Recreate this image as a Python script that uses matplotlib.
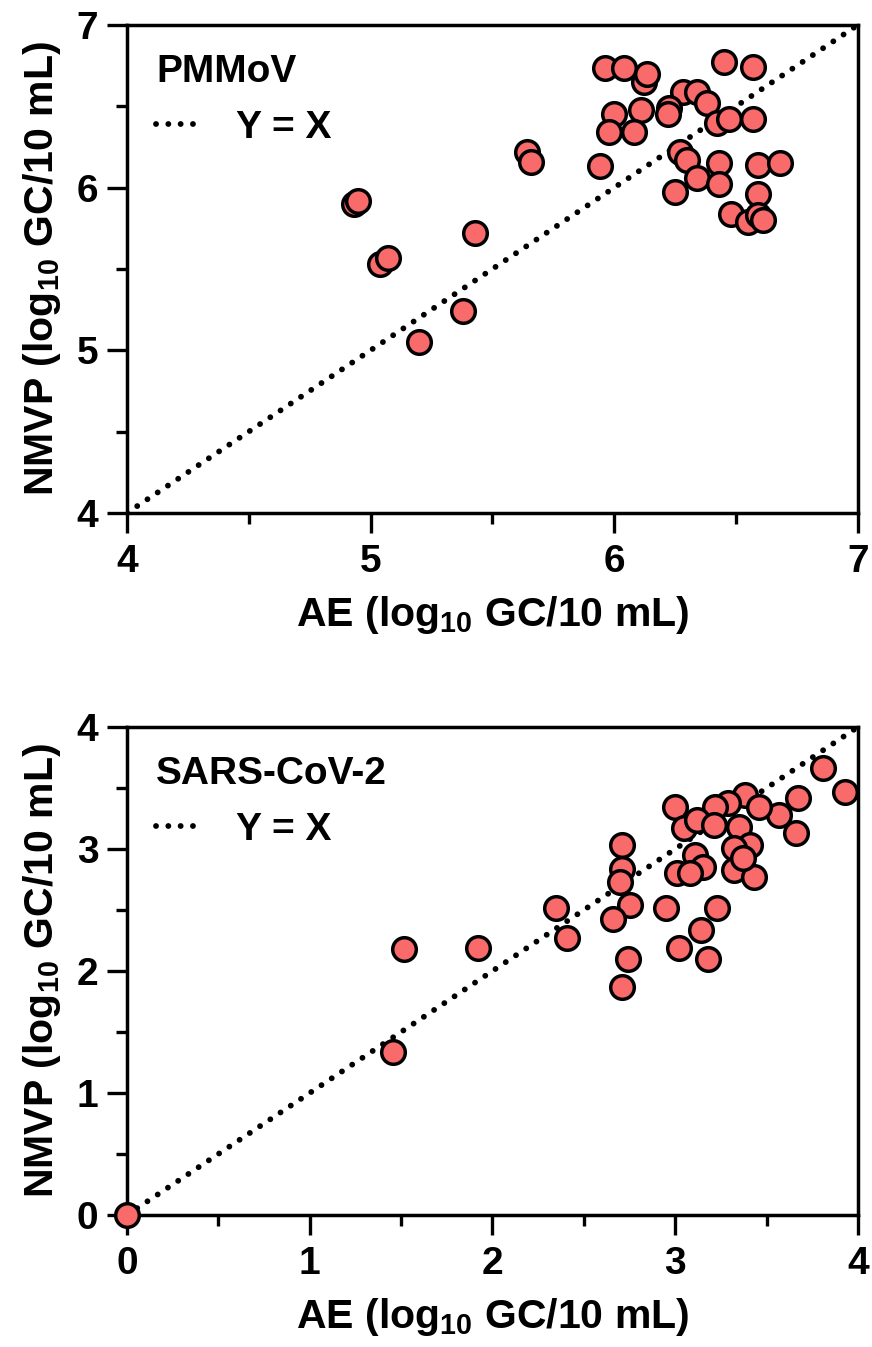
import matplotlib
matplotlib.use('Agg')
import matplotlib.pyplot as plt
from matplotlib.ticker import MultipleLocator

# PMMoV panel: AE vs NMVP (log10 GC/10 mL)
pmmov_ae = [4.93, 4.95, 5.04, 5.07, 5.43, 5.38, 5.20, 5.64, 5.66,
            5.96, 6.04, 6.12, 6.135, 6.45, 6.57, 6.28, 6.34, 6.38, 6.225,
            6.22, 6.11, 6.00, 5.98, 6.08, 6.42, 6.47, 6.57, 5.94, 6.27,
            6.30, 6.43, 6.34, 6.43, 6.25, 6.59, 6.68, 6.59, 6.48, 6.55,
            6.59, 6.61]
pmmov_nmvp = [5.90, 5.92, 5.53, 5.57, 5.72, 5.24, 5.05, 6.22, 6.16,
              6.735, 6.735, 6.65, 6.70, 6.77, 6.74, 6.59, 6.59, 6.52, 6.49,
              6.45, 6.48, 6.45, 6.34, 6.34, 6.40, 6.42, 6.42, 6.13, 6.22,
              6.17, 6.15, 6.06, 6.02, 5.97, 6.14, 6.15, 5.96, 5.84, 5.79,
              5.83, 5.80]

# SARS-CoV-2 panel
sars_ae = [0.0, 1.455, 1.516, 1.92, 2.35, 2.41,
           3.81, 3.93, 3.00, 3.67, 3.57, 3.66, 3.38, 3.46, 3.29, 3.22,
           3.05, 3.12, 3.21, 3.35, 3.41, 3.32, 3.11, 3.15, 3.01, 3.08,
           3.32, 3.43, 3.37, 2.71, 2.71, 2.70, 2.75, 2.66, 2.95, 3.23,
           3.14, 3.02, 3.18, 2.74, 2.71]
sars_nmvp = [0.0, 1.34, 2.18, 2.19, 2.52, 2.27,
             3.66, 3.47, 3.34, 3.42, 3.28, 3.13, 3.44, 3.34, 3.38, 3.34,
             3.17, 3.24, 3.20, 3.18, 3.03, 3.01, 2.95, 2.85, 2.80, 2.80,
             2.83, 2.77, 2.93, 3.03, 2.84, 2.73, 2.54, 2.43, 2.52, 2.52,
             2.34, 2.19, 2.10, 2.10, 1.87]

PANELS = [
    ("PMMoV", pmmov_ae, pmmov_nmvp, (4, 7)),
    ("SARS-CoV-2", sars_ae, sars_nmvp, (0, 4)),
]

FILL = "#F96A6A"

plt.rcParams['font.family'] = ['Liberation Sans', 'DejaVu Sans']
plt.rcParams['font.weight'] = 'bold'
plt.rcParams['mathtext.fontset'] = 'custom'
plt.rcParams['mathtext.bf'] = 'Liberation Sans:bold'
plt.rcParams['mathtext.rm'] = 'Liberation Sans:bold'
plt.rcParams['mathtext.default'] = 'bf'

fig = plt.figure(figsize=(8.72, 13.47), dpi=100)
positions = [[0.1456, 0.6192, 0.8383, 0.3623],
             [0.1456, 0.0980, 0.8383, 0.3623]]

for pos, (name, xs, ys, (lo, hi)) in zip(positions, PANELS):
    ax = fig.add_axes(pos)
    ax.plot([lo, hi], [lo, hi], color='black', lw=4.2,
            linestyle=(0, (0.01, 2.1)), dash_capstyle='round',
            label='Y = X', zorder=2)
    ax.plot(xs, ys, linestyle='none', marker='o', ms=17,
            markerfacecolor=FILL, markeredgecolor='black', mew=2.5,
            clip_on=False, zorder=5)
    ax.set_xlim(lo, hi)
    ax.set_ylim(lo, hi)
    ax.xaxis.set_major_locator(MultipleLocator(1))
    ax.yaxis.set_major_locator(MultipleLocator(1))
    ax.xaxis.set_minor_locator(MultipleLocator(0.5))
    ax.yaxis.set_minor_locator(MultipleLocator(0.5))
    for sp in ax.spines.values():
        sp.set_linewidth(2.5)
    ax.tick_params(which='major', length=14.5, width=2.4, labelsize=28)
    ax.tick_params(which='minor', length=8, width=2.4)
    ax.tick_params(axis='x', which='major', pad=8)
    ax.tick_params(axis='y', which='major', pad=6)
    ax.set_xlabel('AE (log$_{10}$ GC/10 mL)', fontsize=29.5, fontweight='bold', labelpad=10)
    ax.set_ylabel('NMVP (log$_{10}$ GC/10 mL)', fontsize=29.5, fontweight='bold', labelpad=10)
    ax.legend(loc='upper left', title=name, frameon=False,
              fontsize=28, title_fontproperties={'size': 28, 'weight': 'bold'},
              alignment='left', handlelength=1.25, handletextpad=0.8,
              borderaxespad=0.35)

fig.savefig('out.png', dpi=100)
